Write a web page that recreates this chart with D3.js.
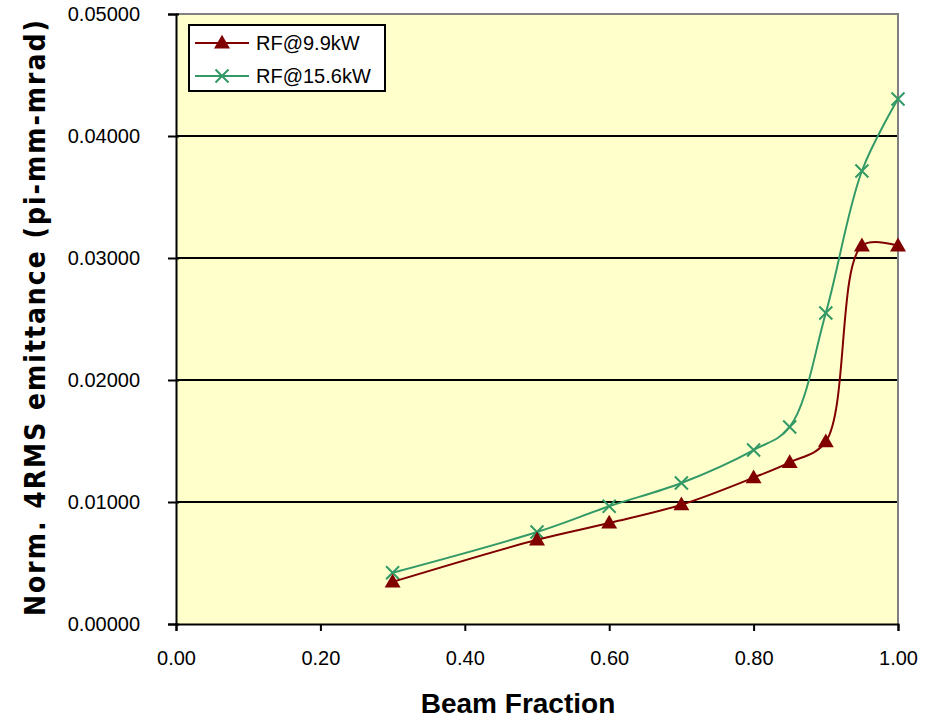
<!DOCTYPE html>
<html>
<head>
<meta charset="utf-8">
<script src="https://cdn.jsdelivr.net/npm/d3@7"></script>
<style>
  html, body { margin: 0; padding: 0; background: #ffffff; }
  svg { display: block; }
</style>
</head>
<body>
<svg id="chart" width="931" height="718"></svg>
<script>
// Beam fraction values shared by both RF power settings
const beamFraction = [0.30, 0.50, 0.60, 0.70, 0.80, 0.85, 0.90, 0.95, 1.00];

// Normalized 4RMS emittance (pi-mm-mrad) per RF setting
const rf99 = [0.00345, 0.00690, 0.00828, 0.00978, 0.01200, 0.01325, 0.01495, 0.03100, 0.03100];
const rf156 = [0.00420, 0.00754, 0.00965, 0.01156, 0.01426, 0.01615, 0.02549, 0.03713, 0.04303];

const seriesNames = ["RF@9.9kW", "RF@15.6kW"];
const xTicks = [0.00, 0.20, 0.40, 0.60, 0.80, 1.00];
const yTicks = [0.00, 0.01, 0.02, 0.03, 0.04, 0.05];

const svg = d3.select("#chart");
const plotLeft = 176, plotRight = 898, plotTop = 14, plotBottom = 624;

const x = d3.scaleLinear().domain([0, 1]).range([plotLeft, plotRight]);
const y = d3.scaleLinear().domain([0, 0.05]).range([plotBottom, plotTop]);

const font = "'Liberation Sans', Arial, sans-serif";

// plot area
svg.append("rect")
  .attr("x", plotLeft).attr("y", plotTop)
  .attr("width", plotRight - plotLeft).attr("height", plotBottom - plotTop)
  .attr("fill", "#ffffcc");

// horizontal gridlines
svg.append("g").selectAll("line")
  .data(yTicks.filter(d => d > 0 && d < 0.05))
  .join("line")
  .attr("x1", plotLeft).attr("x2", plotRight)
  .attr("y1", d => y(d)).attr("y2", d => y(d))
  .attr("stroke", "#000").attr("stroke-width", 2);

// top and right frame
svg.append("path")
  .attr("d", `M${plotLeft},${plotTop}H${plotRight}V${plotBottom}`)
  .attr("fill", "none").attr("stroke", "#808080").attr("stroke-width", 2);

// y axis
const yAxis = d3.axisLeft(y).tickValues(yTicks)
  .tickSize(8).tickPadding(28)
  .tickFormat(d3.format(".5f"));
const gy = svg.append("g").attr("transform", `translate(${plotLeft},0)`).call(yAxis);
gy.select(".domain").attr("stroke", "#000").attr("stroke-width", 2);
gy.selectAll(".tick line").attr("stroke", "#000").attr("stroke-width", 2)
  .attr("x2", -8).attr("x1", 3);
gy.selectAll(".tick text")
  .attr("font-family", font).attr("font-size", 20).attr("fill", "#000")
  .attr("dy", "0.34em");

// x axis
const xAxis = d3.axisBottom(x).tickValues(xTicks)
  .tickSize(7).tickPadding(20)
  .tickFormat(d3.format(".2f"));
const gx = svg.append("g").attr("transform", `translate(0,${plotBottom})`).call(xAxis);
gx.select(".domain").attr("stroke", "#000").attr("stroke-width", 2);
gx.selectAll(".tick line").attr("stroke", "#000").attr("stroke-width", 2);
gx.selectAll(".tick text")
  .attr("font-family", font).attr("font-size", 20).attr("fill", "#000");

// axis titles
svg.append("text")
  .attr("x", 518).attr("y", 713)
  .attr("text-anchor", "middle")
  .attr("font-family", font).attr("font-weight", "bold").attr("font-size", 28)
  .text("Beam Fraction");

svg.append("text")
  .attr("transform", "translate(45,318) rotate(-90)")
  .attr("text-anchor", "middle")
  .attr("font-family", "'DejaVu Sans Condensed', 'DejaVu Sans', sans-serif")
  .attr("font-stretch", "condensed")
  .attr("font-weight", "bold").attr("font-size", 28)
  .attr("textLength", 596).attr("lengthAdjust", "spacing")
  .text("Norm. 4RMS emittance (pi-mm-mrad)");

// series
const series = [
  { name: seriesNames[0], values: rf99, color: "#800000", marker: "triangle" },
  { name: seriesNames[1], values: rf156, color: "#339966", marker: "cross" }
];

const line = d3.line()
  .x(d => x(d[0])).y(d => y(d[1]))
  .curve(d3.curveCatmullRom.alpha(0.5));

const triangle = d3.symbol().type(d3.symbolTriangle).size(110);

function drawMarker(g, kind, color) {
  if (kind === "triangle") {
    g.append("path").attr("d", triangle()).attr("fill", color).attr("transform", "translate(0,1)");
  } else {
    const s = 6.5;
    g.append("path")
      .attr("d", `M${-s},${-s}L${s},${s}M${-s},${s}L${s},${-s}`)
      .attr("stroke", color).attr("stroke-width", 2).attr("fill", "none");
  }
}

// draw green first so the red triangles sit on top where close
[series[1], series[0]].forEach(s => {
  const pts = beamFraction.map((b, i) => [b, s.values[i]]);
  svg.append("path")
    .attr("d", line(pts))
    .attr("fill", "none").attr("stroke", s.color).attr("stroke-width", 2);
  svg.append("g").selectAll("g")
    .data(pts).join("g")
    .attr("transform", d => `translate(${x(d[0])},${y(d[1])})`)
    .each(function() { drawMarker(d3.select(this), s.marker, s.color); });
});

// legend
const legend = svg.append("g").attr("transform", "translate(189,25)");
legend.append("rect")
  .attr("width", 196).attr("height", 66)
  .attr("fill", "#fff").attr("stroke", "#000").attr("stroke-width", 2);
series.forEach((s, i) => {
  const ly = 18 + i * 33;
  legend.append("line")
    .attr("x1", 6).attr("x2", 60).attr("y1", ly).attr("y2", ly)
    .attr("stroke", s.color).attr("stroke-width", 2);
  const m = legend.append("g").attr("transform", `translate(33,${ly})`);
  drawMarker(m, s.marker, s.color);
  legend.append("text")
    .attr("x", 67).attr("y", ly).attr("dy", "0.35em")
    .attr("font-family", font).attr("font-size", 20)
    .text(s.name);
});
</script>
</body>
</html>
